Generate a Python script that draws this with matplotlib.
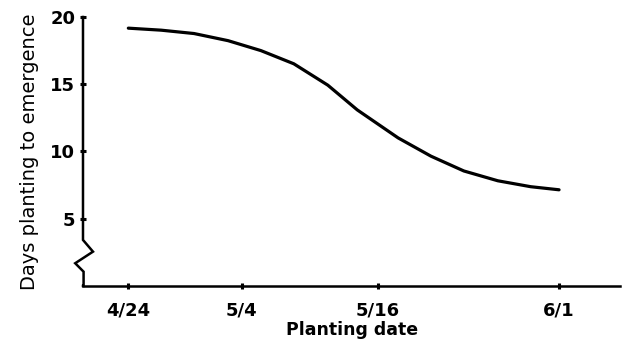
import matplotlib
matplotlib.use("Agg")
import matplotlib.pyplot as plt

# days after 4/24 vs days from planting to emergence
days = [0, 2.9, 5.8, 8.8, 11.7, 14.6, 17.6, 20.2, 23.8, 26.7, 29.6, 32.6, 35.5, 38.0]
emergence = [19.17, 19.02, 18.77, 18.24, 17.5, 16.52, 14.93, 13.09,
             11.01, 9.65, 8.55, 7.82, 7.38, 7.15]

tick_days = [0, 10, 22, 38]
tick_labels = ["4/24", "5/4", "5/16", "6/1"]
ytick_vals = [5, 10, 15, 20]

plt.rcParams['font.family'] = ['DejaVu Sans']

fig = plt.figure(figsize=(6.24, 3.40), dpi=100)
ax = fig.add_axes([0.133, 0.159, 0.861, 0.791])

ax.plot(days, emergence, color='black', lw=2.3, solid_capstyle='round',
        solid_joinstyle='round')

ax.set_xlim(-4, 43.4)
ax.set_ylim(0, 20)

# axes lines: left spine with a break (zigzag) near the bottom
for s in ['top', 'right', 'left']:
    ax.spines[s].set_visible(False)
ax.spines['bottom'].set_linewidth(1.8)
ax.plot([0, 0, 0.0186, -0.0145, 0.0011, 0.0011, 0],
        [1, 0.171, 0.1275, 0.0844, 0.053, 0.0, 0.0],
        transform=ax.transAxes, color='black', lw=1.8, clip_on=False,
        solid_joinstyle='miter')

ax.set_xticks(tick_days)
ax.set_xticklabels(tick_labels)
ax.set_yticks(ytick_vals)
ax.tick_params(axis='both', direction='inout', length=5, width=2.2,
               labelsize=13)
ax.tick_params(axis='x', pad=9)
ax.tick_params(axis='y', pad=3)
for lab in ax.get_xticklabels() + ax.get_yticklabels():
    lab.set_fontweight('bold')

ax.set_xlabel("Planting date", fontsize=12.5, fontweight='bold', labelpad=1)
ax.set_ylabel("Days planting to emergence", fontsize=14, labelpad=8)

fig.savefig("out.png", dpi=100)
